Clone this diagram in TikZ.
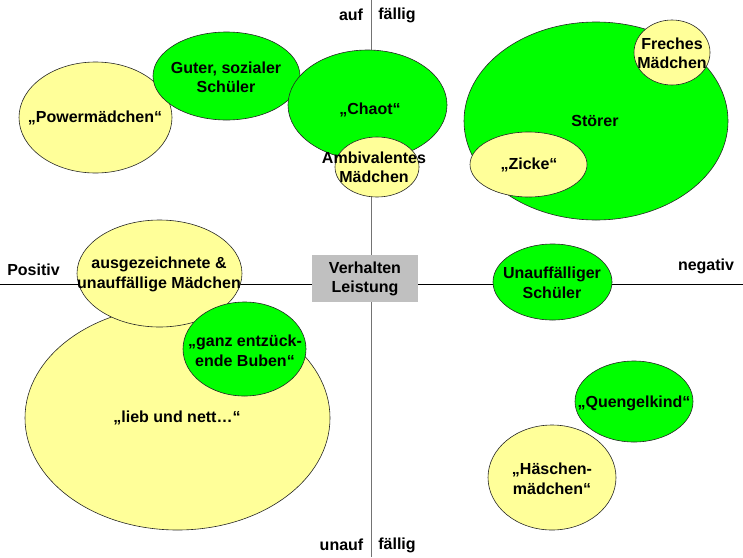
\documentclass[tikz,border=0pt]{standalone}
\usepackage{fontspec}
\setmainfont{Liberation Sans}
\usetikzlibrary{shapes.geometric}
\definecolor{grn}{HTML}{00FF00}
\definecolor{ylw}{HTML}{FFFF99}
\definecolor{boxgray}{HTML}{C0C0C0}
\tikzset{
  ell/.style={ellipse, draw=black!85, line width=0.6pt, inner sep=0pt},
  gre/.style={ell, fill=grn},
  yel/.style={ell, fill=ylw},
  lbl/.style={font=\fontsize{16}{19.5}\selectfont\bfseries, align=center, inner sep=0pt, text=black},
  axis/.style={line width=0.8pt},
}
\begin{document}
\begin{tikzpicture}[x=1pt,y=-1pt]
\useasboundingbox (0,0) rectangle (743,557);
% axes
\coordinate (L) at (0,284);
\coordinate (R) at (743,284);
\coordinate (T) at (371,0);
\coordinate (B) at (371,557);
\draw[axis, black] (L) -- (R);
\draw[axis, black!55] (T) -- (B);
% ellipses
\node[yel, minimum width=153, minimum height=111] (pow) at (95.5,117.5) {};
\node[gre, minimum width=147, minimum height=88] (gut) at (226.5,76) {};
\node[gre, minimum width=159, minimum height=110] (cha) at (367.5,105) {};
\node[yel, minimum width=84, minimum height=60] (amb) at (377,167) {};
\node[gre, minimum width=264, minimum height=198] (sto) at (596,121) {};
\node[yel, minimum width=76, minimum height=65] (fre) at (672,52.5) {};
\node[yel, minimum width=117, minimum height=65] (zic) at (528.5,164.5) {};
\node[yel, minimum width=305, minimum height=224] (lie) at (177.5,418) {};
\node[yel, minimum width=165, minimum height=107] (aus) at (159.5,273.5) {};
\node[gre, minimum width=123, minimum height=94] (bub) at (244.5,349) {};
\node[gre, minimum width=119, minimum height=76] (una) at (552.5,282) {};
\node[gre, minimum width=118, minimum height=81] (que) at (634,401.5) {};
\node[yel, minimum width=128, minimum height=105] (has) at (552,477.5) {};
% box
\node[fill=boxgray, minimum width=106, minimum height=47, inner sep=0pt] (box) at (365,278.5) {};
% texts
\node[lbl] (tpow) at (95,118) {„Powermädchen“};
\node[lbl] (tgut) at (226,77.5) {Guter, sozialer\\Schüler};
\node[lbl] (tcha) at (370,110) {„Chaot“};
\node[lbl] (tamb) at (374,167.5) {Ambivalentes\\Mädchen};
\node[lbl] (tsto) at (595,121) {Störer};
\node[lbl] (tfre) at (672,53.5) {Freches\\Mädchen};
\node[lbl] (tzic) at (529,165) {„Zicke“};
\node[lbl] (taus) at (159,274.5) {ausgezeichnete \&\\unauffällige Mädchen};
\node[lbl] (tbub) at (245,351) {„ganz entzück-\\ende Buben“};
\node[lbl] (tlie) at (177,418) {„lieb und nett…“};
\node[lbl] (tuna) at (552,283) {Unauffälliger\\Schüler};
\node[lbl] (tque) at (634,403) {„Quengelkind“};
\node[lbl] (thas) at (552,479) {„Häschen-\\mädchen“};
\node[lbl] (tbox) at (365,279) {Verhalten\\Leistung};
\node[lbl] (tauf) at (351,15) {auf};
\node[lbl] (tfa1) at (397,15) {fällig};
\node[lbl] (tuna2) at (341.5,545) {unauf};
\node[lbl] (tfa2) at (397,545) {fällig};
\node[lbl] (tpos) at (33.5,270) {Positiv};
\node[lbl] (tneg) at (706,266) {negativ};
\end{tikzpicture}
\end{document}
